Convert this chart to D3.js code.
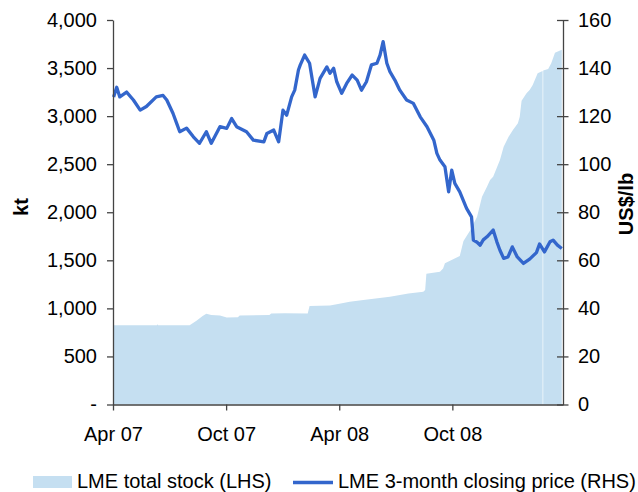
<!DOCTYPE html>
<html><head><meta charset="utf-8">
<script src="https://cdn.jsdelivr.net/npm/d3@7"></script>
<style>body{margin:0;background:#fff}svg{display:block;font-family:Arial,"Liberation Sans",sans-serif}</style>
</head><body><svg id="c" width="638" height="492"></svg>
<script>
// LME 3-month closing price (US$/lb, RHS)
const priceDates = ["2007-04-02","2007-04-07","2007-04-12","2007-04-23","2007-05-04","2007-05-15","2007-05-25","2007-06-10","2007-06-21","2007-06-27",
"2007-07-07","2007-07-13","2007-07-18","2007-07-29","2007-08-09","2007-08-19","2007-08-30","2007-09-07","2007-09-21","2007-10-02",
"2007-10-10","2007-10-18","2007-11-03","2007-11-14","2007-12-01","2007-12-06","2007-12-17","2007-12-25","2008-01-01","2008-01-07",
"2008-01-15","2008-01-20","2008-01-26","2008-01-29","2008-02-05","2008-02-13","2008-02-22","2008-03-01","2008-03-12","2008-03-17",
"2008-03-23","2008-03-28","2008-04-05","2008-04-13","2008-04-22","2008-04-30","2008-05-07","2008-05-15","2008-05-23","2008-06-01",
"2008-06-06","2008-06-11","2008-06-17","2008-06-22","2008-06-30","2008-07-08","2008-07-19","2008-07-30","2008-08-10","2008-08-21",
"2008-09-01","2008-09-06","2008-09-11","2008-09-19","2008-09-25","2008-09-30","2008-10-05","2008-10-13","2008-10-24","2008-11-01",
"2008-11-04","2008-11-10","2008-11-15","2008-11-20","2008-11-26","2008-12-06","2008-12-12","2008-12-17","2008-12-23","2008-12-30",
"2009-01-06","2009-01-14","2009-01-24","2009-02-03","2009-02-14","2009-02-19","2009-02-27","2009-03-08","2009-03-13","2009-03-20","2009-03-27"];
const priceValues = [128,132,128,130,126.7,122.5,124,128,128.6,126.7,
121.2,117,113.5,115,111.4,108.7,113.5,108.7,115.6,114.9,
119,115.6,113.5,110,109.3,112.8,114.2,109.3,122.5,120.4,
128,130.8,139.2,141.3,145.4,142,128,135.7,140.5,137.8,
139.9,134.3,129.5,133.6,137.1,135,130.8,134.3,141.3,142,
145.4,151,142,138.5,135,130.8,126.7,125.3,119.7,115.6,
110,104.5,101.7,98.9,88.5,97.5,92,88.5,81.6,78.1,
68.4,67.5,66.3,68.5,69.8,72.6,67.7,64.2,60.8,61.4,
65.6,61.4,58.7,60.5,63.2,66.8,63.5,67.7,68.4,66.3,64.9];

// LME total stock (kt, LHS); null marks a missing day
const stockDates = ["2007-04-01","2007-06-11","2007-06-12","2007-06-13","2007-08-03","2007-08-14","2007-08-24","2007-08-30","2007-09-07","2007-09-21",
"2007-10-02","2007-10-20","2007-10-23","2007-12-10","2007-12-13","2008-01-04","2008-02-10","2008-02-13","2008-03-17","2008-03-28",
"2008-04-18","2008-05-10","2008-06-22","2008-07-22","2008-08-15","2008-08-18","2008-08-20","2008-09-11","2008-09-16","2008-09-19",
"2008-10-13","2008-10-19","2008-10-30","2008-11-10","2008-11-18","2008-11-26","2008-12-01","2008-12-06","2008-12-17","2008-12-23",
"2008-12-31","2009-01-07","2009-01-15","2009-01-18","2009-01-21","2009-01-29","2009-02-03","2009-02-08","2009-02-16","2009-02-24",
"2009-02-24","2009-02-25","2009-03-05","2009-03-10","2009-03-16","2009-03-27"];
const stockValues = [825,825,835,825,825,870,920,945,930,925,
905,908,926,930,947,950,947,1026,1030,1044,
1068,1086,1120,1155,1172,1190,1360,1380,1416,1470,
1545,1700,1814,1953,2161,2265,2335,2369,2543,2682,
2786,2855,2925,2994,3160,3237,3272,3324,3446,3470,
null,3475,3490,3550,3660,3690];

const xTickDates = ["2007-04-01","2007-10-01","2008-04-01","2008-10-01"];
const xTickLabels = ["Apr 07","Oct 07","Apr 08","Oct 08"];
const leftTicks = [0,500,1000,1500,2000,2500,3000,3500,4000];
const rightTicks = [0,20,40,60,80,100,120,140,160];
const xDomain = ["2007-04-01","2009-03-29"];

const parse = d3.timeParse("%Y-%m-%d");
const svg = d3.select("#c");
const L = 113, R = 563, T = 20, B = 404.5;

const x = d3.scaleTime().domain(xDomain.map(parse)).range([L, R]);
const yL = d3.scaleLinear().domain([0, 4000]).range([B, T]);
const yR = d3.scaleLinear().domain([0, 160]).range([B, T]);

const stock = stockDates.map((d, i) => ({date: parse(d), v: stockValues[i]}));
const price = priceDates.map((d, i) => ({date: parse(d), v: priceValues[i]}));

const areaFill = "#c5dff1";
const lineCol = "#3366cc";
const axisCol = "#444";

svg.append("path").datum(stock)
  .attr("fill", areaFill)
  .attr("d", d3.area().defined(d => d.v !== null)
    .x(d => x(d.date)).y0(B).y1(d => yL(d.v)));

svg.append("path").datum(price)
  .attr("fill", "none").attr("stroke", lineCol).attr("stroke-width", 3.3)
  .attr("stroke-linejoin", "round")
  .attr("d", d3.line().x(d => x(d.date)).y(d => yR(d.v)));

function styleAxis(g) {
  g.select(".domain").attr("stroke", axisCol).attr("stroke-width", 1.3);
  g.selectAll(".tick line").attr("stroke", axisCol).attr("stroke-width", 1.3);
  g.selectAll("text").attr("fill", "#000").style("font-size", "20px")
    .style("font-family", "Arial, 'Liberation Sans', sans-serif");
}

const gL = svg.append("g").attr("transform", `translate(${L},0)`)
  .call(d3.axisLeft(yL).tickValues(leftTicks).tickSize(6).tickSizeOuter(0).tickPadding(10)
    .tickFormat(d => d === 0 ? "-" : d3.format(",")(d)));
styleAxis(gL);

const gR = svg.append("g").attr("transform", `translate(${R},0)`)
  .call(d3.axisRight(yR).tickValues(rightTicks).tickSize(5.5).tickSizeOuter(0).tickPadding(9.5));
gR.selectAll(".tick line").attr("x1", -6);
styleAxis(gR);

const gB = svg.append("g").attr("transform", `translate(0,${B})`)
  .call(d3.axisBottom(x).tickValues(xTickDates.map(parse)).tickSize(6).tickSizeOuter(0).tickPadding(16)
    .tickFormat((d, i) => xTickLabels[i]));
styleAxis(gB);

svg.append("text").attr("transform", `translate(28,207) rotate(-90)`)
  .attr("text-anchor", "middle").style("font-size", "20px").style("font-weight", "bold").text("kt");
svg.append("text").attr("transform", `translate(633,204) rotate(-90)`)
  .attr("text-anchor", "middle").style("font-size", "20px").style("font-weight", "bold").text("US$/lb");

// Legend
const lg = svg.append("g");
lg.append("rect").attr("x", 33).attr("y", 476).attr("width", 39).attr("height", 12).attr("fill", areaFill);
lg.append("text").attr("x", 77).attr("y", 488).style("font-size", "20px").text("LME total stock (LHS)");
lg.append("line").attr("x1", 293).attr("x2", 333).attr("y1", 482.5).attr("y2", 482.5)
  .attr("stroke", lineCol).attr("stroke-width", 3.3);
lg.append("text").attr("x", 338).attr("y", 488).style("font-size", "20px").text("LME 3-month closing price (RHS)");
</script></body></html>
